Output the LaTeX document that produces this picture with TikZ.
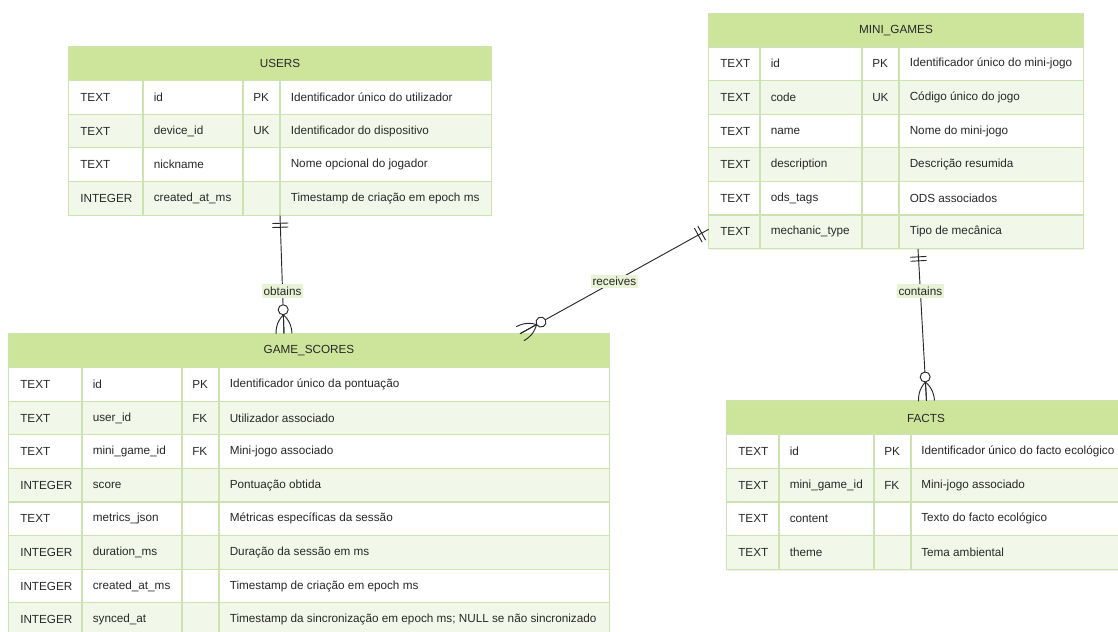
\documentclass[tikz,border=0pt]{standalone}
\usepackage{fontspec}
\setmainfont{Liberation Sans}
\usetikzlibrary{calc,fit,shadows}

\definecolor{headfill}{RGB}{205,228,155}
\definecolor{rowfill}{RGB}{242,248,233}
\definecolor{gridcol}{RGB}{204,226,176}
\definecolor{labelfill}{RGB}{232,242,214}
\definecolor{inkcol}{RGB}{40,40,40}

\begin{document}
\begin{tikzpicture}[x=0.75pt,y=-0.75pt,
  font=\fontsize{8.8}{10.5}\selectfont, text=inkcol,
  tablebox/.style={inner sep=0pt, fill=white, drop shadow={opacity=0.12, shadow xshift=1pt, shadow yshift=-1pt}},
  headtext/.style={inner sep=0pt},
  celltext/.style={anchor=west, inner sep=0pt},
  gridline/.style={draw=gridcol, line width=0.8pt},
  relline/.style={draw=inkcol, line width=0.7pt},
  rellabel/.style={fill=labelfill, inner xsep=1pt, inner ysep=2pt},
  onemark/.pic={\draw[relline] (8,-8) -- (8,8) (12,-8) -- (12,8);},
  manymark/.pic={
    \draw[relline] (0,0) -- (19,0);
    \draw[relline] (19,0) .. controls (12,7) and (5,8) .. (0,8);
    \draw[relline] (19,0) .. controls (12,-7) and (5,-8) .. (0,-8);
    \draw[relline, fill=white] (24,0) circle (5);}]
  \useasboundingbox (0,0) rectangle (1118,632);

  % USERS
  \node[tablebox, fit={(69,47) (491,215)}] (users) {};
  \fill[headfill] (69,47) rectangle (491,80.6);
  \node[headtext] (users-head) at (280,63.8) {USERS};
  \foreach \ty/\nm/\ky/\ds [count=\rw] in {
      TEXT/id/PK/Identificador único do utilizador,
      TEXT/device\_id/UK/Identificador do dispositivo,
      TEXT/nickname//Nome opcional do jogador,
      INTEGER/created\_at\_ms//Timestamp de criação em epoch ms}
  {
    \pgfmathsetmacro{\yt}{80.6+(\rw-1)*33.6}
    \ifodd\rw \def\rc{white}\else \def\rc{rowfill}\fi
    \fill[\rc] (69,\yt) rectangle (491,\yt+33.6);
    \draw[gridline] (69,\yt) -- (491,\yt);
    \node[celltext] (users-ty\rw) at (80,\yt+16.8) {\ty};
    \node[celltext] (users-nm\rw) at (153.5,\yt+16.8) {\nm};
    \node[celltext] (users-ky\rw) at (253,\yt+16.8) {\ky};
    \node[celltext] (users-ds\rw) at (290.5,\yt+16.8) {\ds};
  }
  \foreach \x in {143,243,280}
    \draw[gridline] (\x,80.6) -- (\x,215);
  \draw[gridline] (users.north west) rectangle (users.south east);

  % MINI_GAMES
  \node[tablebox, fit={(709,13.4) (1083,248.6)}] (mini) {};
  \fill[headfill] (709,13.4) rectangle (1083,47);
  \node[headtext] (mini-head) at (896,30.2) {MINI\_GAMES};
  \foreach \ty/\nm/\ky/\ds [count=\rw] in {
      TEXT/id/PK/Identificador único do mini-jogo,
      TEXT/code/UK/Código único do jogo,
      TEXT/name//Nome do mini-jogo,
      TEXT/description//Descrição resumida,
      TEXT/ods\_tags//ODS associados,
      TEXT/mechanic\_type//Tipo de mecânica}
  {
    \pgfmathsetmacro{\yt}{47+(\rw-1)*33.6}
    \ifodd\rw \def\rc{white}\else \def\rc{rowfill}\fi
    \fill[\rc] (709,\yt) rectangle (1083,\yt+33.6);
    \draw[gridline] (709,\yt) -- (1083,\yt);
    \node[celltext] (mini-ty\rw) at (720,\yt+16.8) {\ty};
    \node[celltext] (mini-nm\rw) at (770.5,\yt+16.8) {\nm};
    \node[celltext] (mini-ky\rw) at (872,\yt+16.8) {\ky};
    \node[celltext] (mini-ds\rw) at (909.5,\yt+16.8) {\ds};
  }
  \foreach \x in {760,862,899}
    \draw[gridline] (\x,47) -- (\x,248.6);
  \draw[gridline] (mini.north west) rectangle (mini.south east);

  % GAME_SCORES
  \node[tablebox, fit={(9,334) (609,636.4)}] (scores) {};
  \fill[headfill] (9,334) rectangle (609,367.6);
  \node[headtext] (scores-head) at (309,350.8) {GAME\_SCORES};
  \foreach \ty/\nm/\ky/\ds [count=\rw] in {
      TEXT/id/PK/Identificador único da pontuação,
      TEXT/user\_id/FK/Utilizador associado,
      TEXT/mini\_game\_id/FK/Mini-jogo associado,
      INTEGER/score//Pontuação obtida,
      TEXT/metrics\_json//Métricas específicas da sessão,
      INTEGER/duration\_ms//Duração da sessão em ms,
      INTEGER/created\_at\_ms//Timestamp de criação em epoch ms,
      INTEGER/synced\_at//Timestamp da sincronização em epoch ms; NULL se não sincronizado}
  {
    \pgfmathsetmacro{\yt}{367.6+(\rw-1)*33.6}
    \ifodd\rw \def\rc{white}\else \def\rc{rowfill}\fi
    \fill[\rc] (9,\yt) rectangle (609,\yt+33.6);
    \draw[gridline] (9,\yt) -- (609,\yt);
    \node[celltext] (scores-ty\rw) at (20,\yt+16.8) {\ty};
    \node[celltext] (scores-nm\rw) at (92.5,\yt+16.8) {\nm};
    \node[celltext] (scores-ky\rw) at (192,\yt+16.8) {\ky};
    \node[celltext] (scores-ds\rw) at (229.5,\yt+16.8) {\ds};
  }
  \foreach \x in {82,182,219}
    \draw[gridline] (\x,367.6) -- (\x,636.4);
  \draw[gridline] (scores.north west) rectangle (scores.south east);

  % FACTS
  \node[tablebox, fit={(727,401.2) (1126,569.2)}] (facts) {};
  \fill[headfill] (727,401.2) rectangle (1126,434.8);
  \node[headtext] (facts-head) at (926,418) {FACTS};
  \foreach \ty/\nm/\ky/\ds [count=\rw] in {
      TEXT/id/PK/Identificador único do facto ecológico,
      TEXT/mini\_game\_id/FK/Mini-jogo associado,
      TEXT/content//Texto do facto ecológico,
      TEXT/theme//Tema ambiental}
  {
    \pgfmathsetmacro{\yt}{434.8+(\rw-1)*33.6}
    \ifodd\rw \def\rc{white}\else \def\rc{rowfill}\fi
    \fill[\rc] (727,\yt) rectangle (1126,\yt+33.6);
    \draw[gridline] (727,\yt) -- (1126,\yt);
    \node[celltext] (facts-ty\rw) at (738,\yt+16.8) {\ty};
    \node[celltext] (facts-nm\rw) at (789.5,\yt+16.8) {\nm};
    \node[celltext] (facts-ky\rw) at (884,\yt+16.8) {\ky};
    \node[celltext] (facts-ds\rw) at (921,\yt+16.8) {\ds};
  }
  \foreach \x in {779,874,911}
    \draw[gridline] (\x,434.8) -- (\x,569.2);
  \draw[gridline] (facts.north west) rectangle (facts.south east);

  % relations
  \coordinate (scores-in1) at ($(scores.north)+(-25,0)$);
  \coordinate (scores-in2) at ($(scores.north)+(211,0)$);
  \coordinate (mini-out1) at ($(mini.south west)+(0,-19.6)$);
  \coordinate (mini-out2) at ($(mini.south)+(22,0)$);

  \draw[relline] (users.south) -- (scores-in1) node[rellabel, pos=0.64] (obtains) {obtains};
  \draw[relline] (mini-out1) -- (scores-in2) node[rellabel, pos=0.5] (receives) {receives};
  \draw[relline] (mini-out2) -- (facts.north) node[rellabel, pos=0.28] (contains) {contains};

  \path let \p1=($(scores-in1)-(users.south)$) in
    (users.south) pic[rotate={atan2(\y1,\x1)}] {onemark}
    (scores-in1) pic[rotate={180+atan2(\y1,\x1)}] {manymark};
  \path let \p1=($(scores-in2)-(mini-out1)$) in
    (mini-out1) pic[rotate={atan2(\y1,\x1)}] {onemark}
    (scores-in2) pic[rotate={180+atan2(\y1,\x1)}] {manymark};
  \path let \p1=($(facts.north)-(mini-out2)$) in
    (mini-out2) pic[rotate={atan2(\y1,\x1)}] {onemark}
    (facts.north) pic[rotate={180+atan2(\y1,\x1)}] {manymark};
\end{tikzpicture}
\end{document}
